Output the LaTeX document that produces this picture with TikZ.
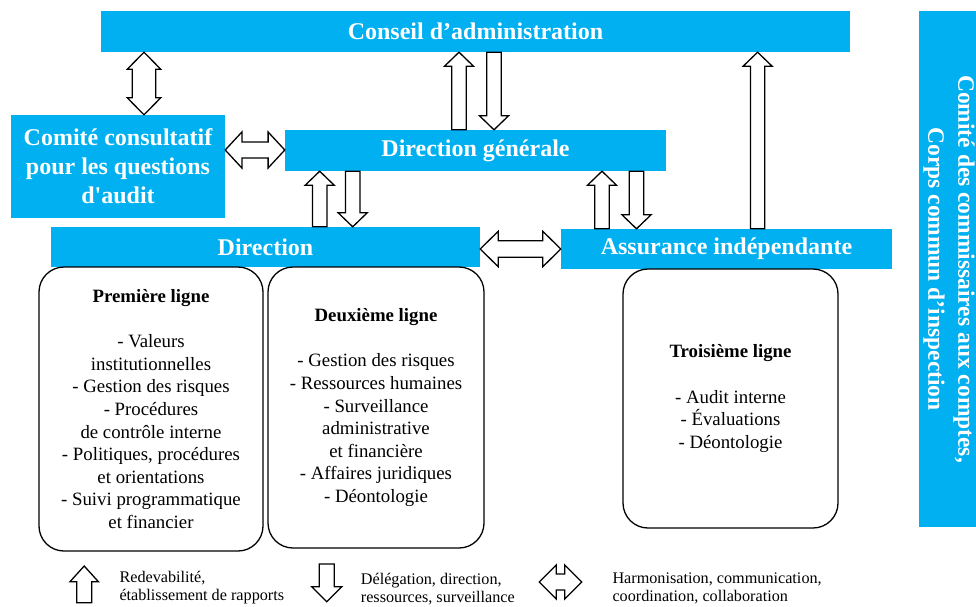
\documentclass[tikz,border=0pt]{standalone}
\usepackage{fontspec}
\setmainfont{Liberation Serif}
\usetikzlibrary{calc}
\definecolor{cyanbox}{HTML}{00B0F0}

% block arrows drawn between node anchors
% #1 x (px), #2 base anchor, #3 tip anchor, #4 shaft half width, #5 head half width, #6 head length
\newcommand{\UpArr}[6]{%
  \draw[barrow] let \p1=(#2), \p2=(#3) in
    (#1pt-#4pt,\y1) -- (#1pt-#4pt,\y2-#6pt) -- (#1pt-#5pt,\y2-#6pt) -- (#1pt,\y2)
    -- (#1pt+#5pt,\y2-#6pt) -- (#1pt+#4pt,\y2-#6pt) -- (#1pt+#4pt,\y1) -- cycle;}
\newcommand{\DownArr}[6]{%
  \draw[barrow] let \p1=(#2), \p2=(#3) in
    (#1pt-#4pt,\y1) -- (#1pt-#4pt,\y2+#6pt) -- (#1pt-#5pt,\y2+#6pt) -- (#1pt,\y2)
    -- (#1pt+#5pt,\y2+#6pt) -- (#1pt+#4pt,\y2+#6pt) -- (#1pt+#4pt,\y1) -- cycle;}
\newcommand{\VDArr}[6]{%
  \draw[barrow] let \p1=(#2), \p2=(#3) in
    (#1pt,\y1) -- (#1pt+#5pt,\y1-#6pt) -- (#1pt+#4pt,\y1-#6pt) -- (#1pt+#4pt,\y2+#6pt)
    -- (#1pt+#5pt,\y2+#6pt) -- (#1pt,\y2) -- (#1pt-#5pt,\y2+#6pt) -- (#1pt-#4pt,\y2+#6pt)
    -- (#1pt-#4pt,\y1-#6pt) -- (#1pt-#5pt,\y1-#6pt) -- cycle;}
% #1 y (px)
\newcommand{\HDArr}[6]{%
  \draw[barrow] let \p1=(#2), \p2=(#3) in
    (\x1,-#1pt) -- (\x1+#6pt,-#1pt+#5pt) -- (\x1+#6pt,-#1pt+#4pt) -- (\x2-#6pt,-#1pt+#4pt)
    -- (\x2-#6pt,-#1pt+#5pt) -- (\x2,-#1pt) -- (\x2-#6pt,-#1pt-#5pt) -- (\x2-#6pt,-#1pt-#4pt)
    -- (\x1+#6pt,-#1pt-#4pt) -- (\x1+#6pt,-#1pt-#5pt) -- cycle;}

\begin{document}
\begin{tikzpicture}[x=1pt,y=-1pt,
  bluebox/.style={fill=cyanbox, draw=none, text=white, inner sep=0pt, align=center,
    font=\fontsize{24}{29}\selectfont\bfseries},
  linebox/.style={draw=black, line width=1.3pt, rounded corners=25pt, fill=white,
    inner sep=0pt, align=center, font=\fontsize{18.8}{22.6}\selectfont},
  barrow/.style={draw=black, fill=white, line width=1.3pt, line join=miter},
  legendtext/.style={anchor=west, align=left, inner sep=0pt,
    font=\fontsize{16.2}{18.4}\selectfont}]
\useasboundingbox (0,0) rectangle (976,606);

% blue boxes
\node[bluebox, minimum width=749, minimum height=41] (conseil) at (475.5,31.5) {Conseil d’administration};
\node[bluebox, minimum width=214, minimum height=103] (comite) at (118,166.5)
  {Comité consultatif\\pour les questions\\d\textquotesingle audit};
\node[bluebox, minimum width=381, minimum height=41] (dg) at (475.5,150.5) {Direction générale};
\node[bluebox, minimum width=429, minimum height=40] (dir) at (265.5,247) {Direction};
\node[bluebox, minimum width=331, minimum height=40] (ass) at (726.5,249) {Assurance indépendante};
\node[bluebox, minimum width=57, minimum height=516] (side) at (947.5,269) {};
\node[text=white, inner sep=0pt, align=center, rotate=-90,
  font=\fontsize{23.5}{30}\selectfont\bfseries] (sidetext) at (949,269)
  {Comité des commissaires aux comptes,\\Corps commun d’inspection};

% rounded boxes
\node[linebox, minimum width=224, minimum height=284] (l1) at (151,409)
  {\textbf{Première ligne}\\[22.6pt]- Valeurs\\institutionnelles\\- Gestion des risques\\- Procédures\\de contrôle interne\\- Politiques, procédures\\et orientations\\- Suivi programmatique\\et financier};
\node[linebox, minimum width=216, minimum height=281] (l2) at (376,407.5)
  {\textbf{Deuxième ligne}\\[22.6pt]- Gestion des risques\\- Ressources humaines\\- Surveillance\\administrative\\et financière\\- Affaires juridiques\\- Déontologie};
\node[linebox, minimum width=215, minimum height=259] (l3) at (730.5,398.5)
  {\textbf{Troisième ligne}\\[22.6pt]- Audit interne\\- Évaluations\\- Déontologie};

% connectors (block arrows)
\VDArr{144}{conseil.south}{comite.north}{11.7}{16.7}{17}
\UpArr{459}{dg.north}{conseil.south}{7.2}{14.5}{14}
\DownArr{494}{conseil.south}{dg.north}{7.2}{14.5}{14}
\HDArr{150}{comite.east}{dg.west}{8}{18}{16.7}
\UpArr{319.7}{dir.north}{dg.south}{7.2}{14.5}{14}
\DownArr{352.7}{dg.south}{dir.north}{7.2}{14.5}{14}
\UpArr{602}{ass.north}{dg.south}{7.2}{14.5}{14}
\DownArr{636.5}{dg.south}{ass.north}{7.2}{14.5}{14}
\UpArr{757.6}{ass.north}{conseil.south}{7.2}{14.5}{14}
\HDArr{249}{dir.east}{ass.west}{8.3}{17.7}{18}

% legend
\coordinate (lg1b) at (84.2,602.7);
\coordinate (lg1t) at (84.2,566);
\coordinate (lg2t) at (326.7,564);
\coordinate (lg2b) at (326.7,601.7);
\coordinate (lg3l) at (539.3,582);
\coordinate (lg3r) at (581.7,582);
\UpArr{84.2}{lg1b}{lg1t}{7.5}{14.2}{15.7}
\DownArr{326.7}{lg2t}{lg2b}{7.5}{15}{15}
\HDArr{582}{lg3l}{lg3r}{8}{17}{17}
\node[legendtext] (t1) at (119.3,587.5) {Redevabilité,\\établissement de rapports};
\node[legendtext] (t2) at (360.7,589) {Délégation, direction,\\ressources, surveillance};
\node[legendtext] (t3) at (612.3,588.5) {Harmonisation, communication,\\coordination, collaboration};
\end{tikzpicture}
\end{document}
